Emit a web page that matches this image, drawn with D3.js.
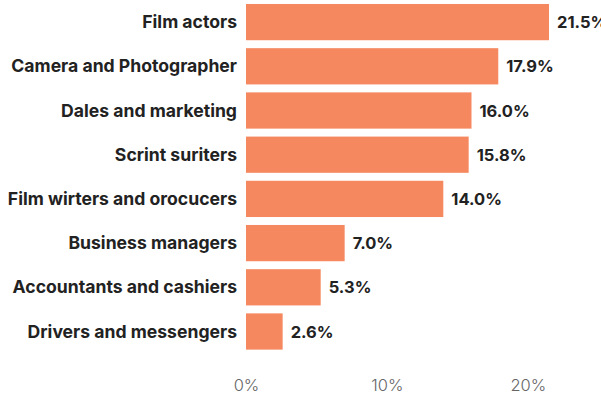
<!DOCTYPE html>
<html>
<head>
<meta charset="utf-8">
<script src="https://cdn.jsdelivr.net/npm/d3@7"></script>
<style>
  html, body { margin: 0; padding: 0; background: #fff; }
  svg { display: block; }
</style>
</head>
<body>
<svg id="chart" width="601" height="394"></svg>
<script>
// Occupations and their share, in percent
const categories = [
  "Film actors",
  "Camera and Photographer",
  "Dales and marketing",
  "Scrint suriters",
  "Film wirters and orocucers",
  "Business managers",
  "Accountants and cashiers",
  "Drivers and messengers"
];
const values = [21.5, 17.9, 16.0, 15.8, 14.0, 7.0, 5.3, 2.6];
const tickValues = [0, 10, 20];

const svg = d3.select("#chart");
const font = "Inter, 'Noto Sans', sans-serif";

const x = d3.scaleLinear().domain([0, 21.5]).range([246, 549]);
const y = d3.scaleBand()
  .domain(categories)
  .range([0, 353.6])
  .paddingInner(0.18)
  .paddingOuter(0.09);

const data = categories.map((c, i) => ({ c, v: values[i] }));
const baseline = d => y(d.c) + y.bandwidth() / 2 + 6;

// Bars
svg.append("g").selectAll("rect")
  .data(data)
  .join("rect")
  .attr("x", x(0))
  .attr("y", d => y(d.c))
  .attr("width", d => x(d.v) - x(0))
  .attr("height", y.bandwidth())
  .attr("fill", "#f5885f");

// Category labels
svg.append("g").selectAll("text")
  .data(data)
  .join("text")
  .attr("x", x(0) - 9)
  .attr("y", baseline)
  .attr("text-anchor", "end")
  .attr("font-family", font)
  .attr("font-weight", 700)
  .attr("font-size", 17.6)
  .attr("fill", "#222")
  .text(d => d.c);

// Value labels
svg.append("g").selectAll("text")
  .data(data)
  .join("text")
  .attr("x", d => x(d.v) + 8)
  .attr("y", baseline)
  .attr("font-family", font)
  .attr("font-weight", 700)
  .attr("font-size", 16.5)
  .attr("fill", "#222")
  .text(d => d.v.toFixed(1) + "%");

// Bottom axis, ticks shown as labels only
const axis = svg.append("g")
  .attr("transform", "translate(0,391)")
  .call(d3.axisBottom(x).tickValues(tickValues).tickFormat(d => d + "%").tickSize(0).tickPadding(0));
axis.select(".domain").remove();
axis.selectAll("text")
  .attr("font-family", font)
  .attr("font-size", 16.5)
  .attr("font-weight", 300)
  .attr("fill", "#666")
  .attr("dy", "0");
</script>
</body>
</html>
